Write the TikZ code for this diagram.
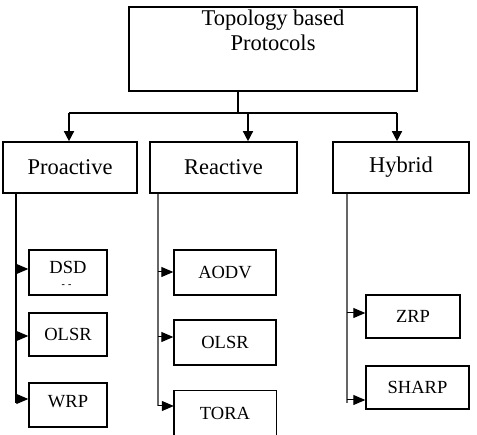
\documentclass[tikz,border=0pt]{standalone}
\usepackage{fontspec}
\setmainfont{Liberation Serif}
\usetikzlibrary{arrows.meta}
\tikzset{
  bigbox/.style={draw=black, line width=1.6pt, inner sep=0pt, font=\fontsize{22.5}{24.5}\selectfont},
  smallbox/.style={draw=black, line width=1.4pt, inner sep=0pt, minimum height=44pt, font=\fontsize{18.5}{20}\selectfont},
  txt/.style={inner sep=0pt},
  trunk/.style={line width=1.4pt, draw=black},
  downarr/.style={trunk, -{Triangle[length=10pt,width=10pt]}},
  sidearr/.style={line width=1pt, -{Triangle[length=12pt,width=10pt]}},
  heavyline/.style={line width=2pt, draw=black},
  greyline/.style={line width=1.1pt, draw=black!60},
}
\begin{document}
\begin{tikzpicture}[x=1pt,y=-1pt]
\useasboundingbox (0,0) rectangle (477,435);
% top box
\node[bigbox, minimum width=288pt, minimum height=84pt] (top) at (273,49) {};
\node[txt, align=center, anchor=north, font=\fontsize{22.5}{24.5}\selectfont] (toptext) at (273,10) {Topology based\\Protocols};
% category boxes
\node[bigbox, minimum width=134pt, minimum height=51pt] (pro) at (70,167.5) {Proactive};
\node[bigbox, minimum width=147pt, minimum height=51pt] (rea) at (223.5,167.5) {Reactive};
\node[bigbox, minimum width=136pt, minimum height=51pt] (hyb) at (401,167.5) {Hybrid};
% trunk
\coordinate (t1) at (238,113);
\coordinate (j1) at (69,113);
\coordinate (j2) at (248,113);
\coordinate (j3) at (397,113);
\draw[trunk] (t1 |- top.south) -- (t1);
\draw[trunk] (j1) -- (j3);
\draw[downarr] (j1) -- (j1 |- pro.north);
\draw[downarr] (j2) -- (j2 |- rea.north);
\draw[downarr] (j3) -- (j3 |- hyb.north);
% proactive children
\node[smallbox, minimum width=78pt, minimum height=45pt] (dsd) at (68,272.5) {};
\node[txt, font=\fontsize{18.5}{20}\selectfont] (dsdtext) at (68,267) {DSD};
\node[txt, font=\fontsize{10}{10}\selectfont\bfseries] (dsddash) at (66.5,286) {-\,\,-};
\node[smallbox, minimum width=78pt, minimum height=43pt] (olsr1) at (68,334.5) {OLSR};
\node[smallbox, minimum width=78pt, minimum height=44pt] (wrp) at (68,405) {};
\node[txt, font=\fontsize{18.5}{20}\selectfont] (wrptext) at (68,402) {WRP};
\coordinate (pe) at (16,403);
\draw[heavyline] (pe |- pro.south) -- (pe);
\coordinate (p1) at (16,269);
\coordinate (p2) at (16,336);
\coordinate (p3) at (16,399);
\draw[sidearr] (p1) -- (p1 -| dsd.west);
\draw[sidearr] (p2) -- (p2 -| olsr1.west);
\draw[sidearr] (p3) -- (p3 -| wrp.west);
% reactive children
\node[smallbox, minimum width=102pt, minimum height=45pt] (aodv) at (225,272.5) {AODV};
\node[smallbox, minimum width=102pt, minimum height=45pt] (olsr2) at (225,342.5) {OLSR};
\node[txt, minimum width=102pt, minimum height=44pt, font=\fontsize{18.5}{20}\selectfont] (tora) at (225,413) {TORA};
\draw[line width=1.4pt] ([yshift=-2pt]tora.south west) -- (tora.north west) -- (tora.north east) -- ([yshift=-2pt]tora.south east);
\coordinate (re) at (158,406);
\draw[greyline] (re |- rea.south) -- (re);
\coordinate (r1) at (158,272);
\coordinate (r2) at (158,337);
\coordinate (r3) at (158,406);
\draw[sidearr] (r1) -- (r1 -| aodv.west);
\draw[sidearr] (r2) -- (r2 -| olsr2.west);
\draw[sidearr] (r3) -- (r3 -| tora.west);
% hybrid children
\node[smallbox, minimum width=94pt, minimum height=43pt] (zrp) at (413,316.5) {ZRP};
\node[smallbox, minimum width=103pt, minimum height=43pt] (sharp) at (417.5,387.5) {SHARP};
\coordinate (he) at (347,403);
\draw[greyline] (he |- hyb.south) -- (he);
\coordinate (h1) at (347,313);
\coordinate (h2) at (347,400);
\draw[sidearr] (h1) -- (h1 -| zrp.west);
\draw[sidearr] (h2) -- (h2 -| sharp.west);
\end{tikzpicture}
\end{document}
